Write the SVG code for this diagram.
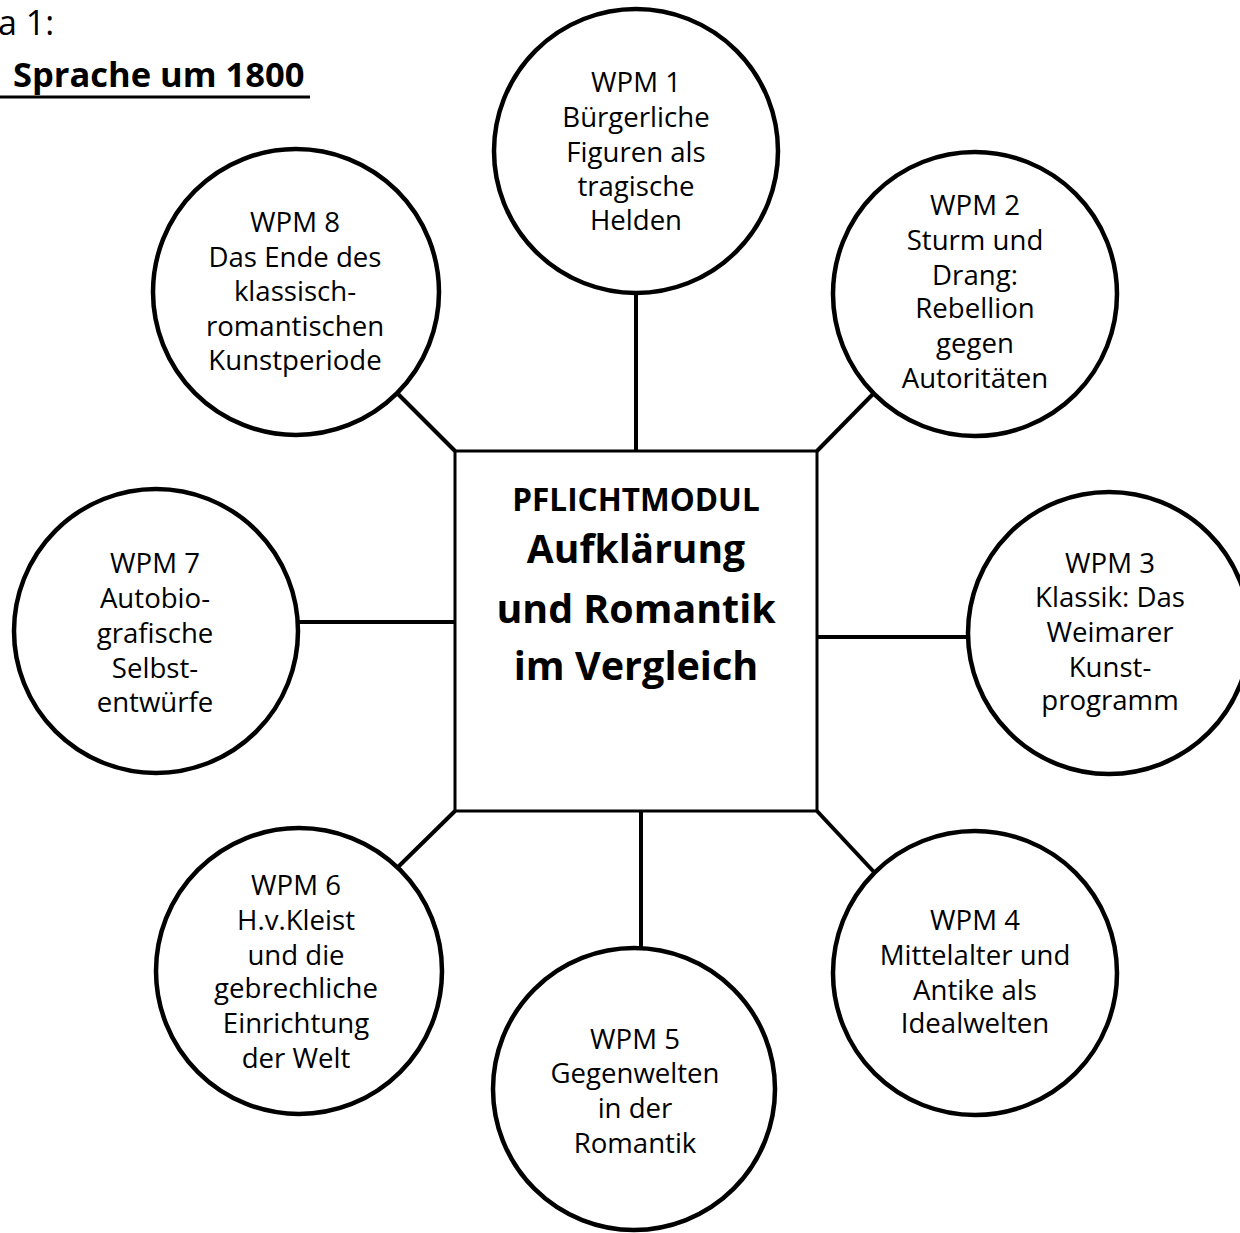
<svg xmlns="http://www.w3.org/2000/svg" width="1240" height="1233" viewBox="0 0 1240 1233">
<style>
.n{fill:#fff;stroke:#000;stroke-width:4.5}
.b{fill:#fff;stroke:#000;stroke-width:3}
.c{stroke:#000;stroke-width:4;fill:none}
text{font-family:"Open Sans","Noto Sans","Liberation Sans",sans-serif;fill:#000}
.t{font-size:27.6px;text-anchor:middle}
.h{font-weight:bold;text-anchor:middle}
</style>
<rect width="1240" height="1233" fill="#fff"/>
<g id="title">
<text x="-2" y="35" style="font-size:34px">a 1:</text>
<text x="13" y="87" style="font-size:34.5px;font-weight:bold">Sprache um 1800</text>
<line x1="0" y1="97" x2="310" y2="97" stroke="#000" stroke-width="3"/>
</g>
<g id="connectors">
<line class="c" x1="636" y1="294" x2="636" y2="451"/>
<line class="c" x1="817" y1="451" x2="874" y2="393"/>
<line class="c" x1="817" y1="637" x2="967" y2="637"/>
<line class="c" x1="817" y1="811" x2="874" y2="872"/>
<line class="c" x1="641" y1="811" x2="641" y2="948"/>
<line class="c" x1="455" y1="811" x2="397" y2="868"/>
<line class="c" x1="298" y1="622" x2="455" y2="622"/>
<line class="c" x1="397" y1="393" x2="455" y2="451"/>
</g>
<g id="center">
<rect class="b" x="455" y="451" width="362" height="360"/>
<text class="h" x="636" y="511" style="font-size:31.5px">PFLICHTMODUL</text>
<text class="h" x="636" y="563" style="font-size:39px">Aufklärung</text>
<text class="h" x="636" y="623" style="font-size:39.4px">und Romantik</text>
<text class="h" x="636" y="680" style="font-size:39.6px">im Vergleich</text>
</g>
<g id="wpm1">
<circle class="n" cx="636" cy="151" r="142"/>
<text class="t" x="636" y="92">WPM 1</text>
<text class="t" x="636" y="127">Bürgerliche</text>
<text class="t" x="636" y="162">Figuren als</text>
<text class="t" x="636" y="196">tragische</text>
<text class="t" x="636" y="230">Helden</text>
</g>
<g id="wpm2">
<circle class="n" cx="975" cy="294" r="142"/>
<text class="t" x="975" y="215">WPM 2</text>
<text class="t" x="975" y="250">Sturm und</text>
<text class="t" x="975" y="285">Drang:</text>
<text class="t" x="975" y="318">Rebellion</text>
<text class="t" x="975" y="353">gegen</text>
<text class="t" x="975" y="388">Autoritäten</text>
</g>
<g id="wpm3">
<circle class="n" cx="1109" cy="633" r="141"/>
<text class="t" x="1110" y="573">WPM 3</text>
<text class="t" x="1110" y="607">Klassik: Das</text>
<text class="t" x="1110" y="642">Weimarer</text>
<text class="t" x="1110" y="677">Kunst-</text>
<text class="t" x="1110" y="710">programm</text>
</g>
<g id="wpm4">
<circle class="n" cx="975" cy="973" r="142"/>
<text class="t" x="975" y="930">WPM 4</text>
<text class="t" x="975" y="965">Mittelalter und</text>
<text class="t" x="975" y="1000">Antike als</text>
<text class="t" x="975" y="1033">Idealwelten</text>
</g>
<g id="wpm5">
<circle class="n" cx="634" cy="1089" r="141"/>
<text class="t" x="635" y="1049">WPM 5</text>
<text class="t" x="635" y="1083">Gegenwelten</text>
<text class="t" x="635" y="1118">in der</text>
<text class="t" x="635" y="1153">Romantik</text>
</g>
<g id="wpm6">
<circle class="n" cx="299" cy="971" r="143"/>
<text class="t" x="296" y="895">WPM 6</text>
<text class="t" x="296" y="930">H.v.Kleist</text>
<text class="t" x="296" y="965">und die</text>
<text class="t" x="296" y="998">gebrechliche</text>
<text class="t" x="296" y="1033">Einrichtung</text>
<text class="t" x="296" y="1068">der Welt</text>
</g>
<g id="wpm7">
<circle class="n" cx="156" cy="631" r="142"/>
<text class="t" x="155" y="573">WPM 7</text>
<text class="t" x="155" y="608">Autobio-</text>
<text class="t" x="155" y="643">grafische</text>
<text class="t" x="155" y="678">Selbst-</text>
<text class="t" x="155" y="712">entwürfe</text>
</g>
<g id="wpm8">
<circle class="n" cx="296" cy="292" r="143"/>
<text class="t" x="295" y="232">WPM 8</text>
<text class="t" x="295" y="267">Das Ende des</text>
<text class="t" x="295" y="301">klassisch-</text>
<text class="t" x="295" y="336">romantischen</text>
<text class="t" x="295" y="370">Kunstperiode</text>
</g>
</svg>
